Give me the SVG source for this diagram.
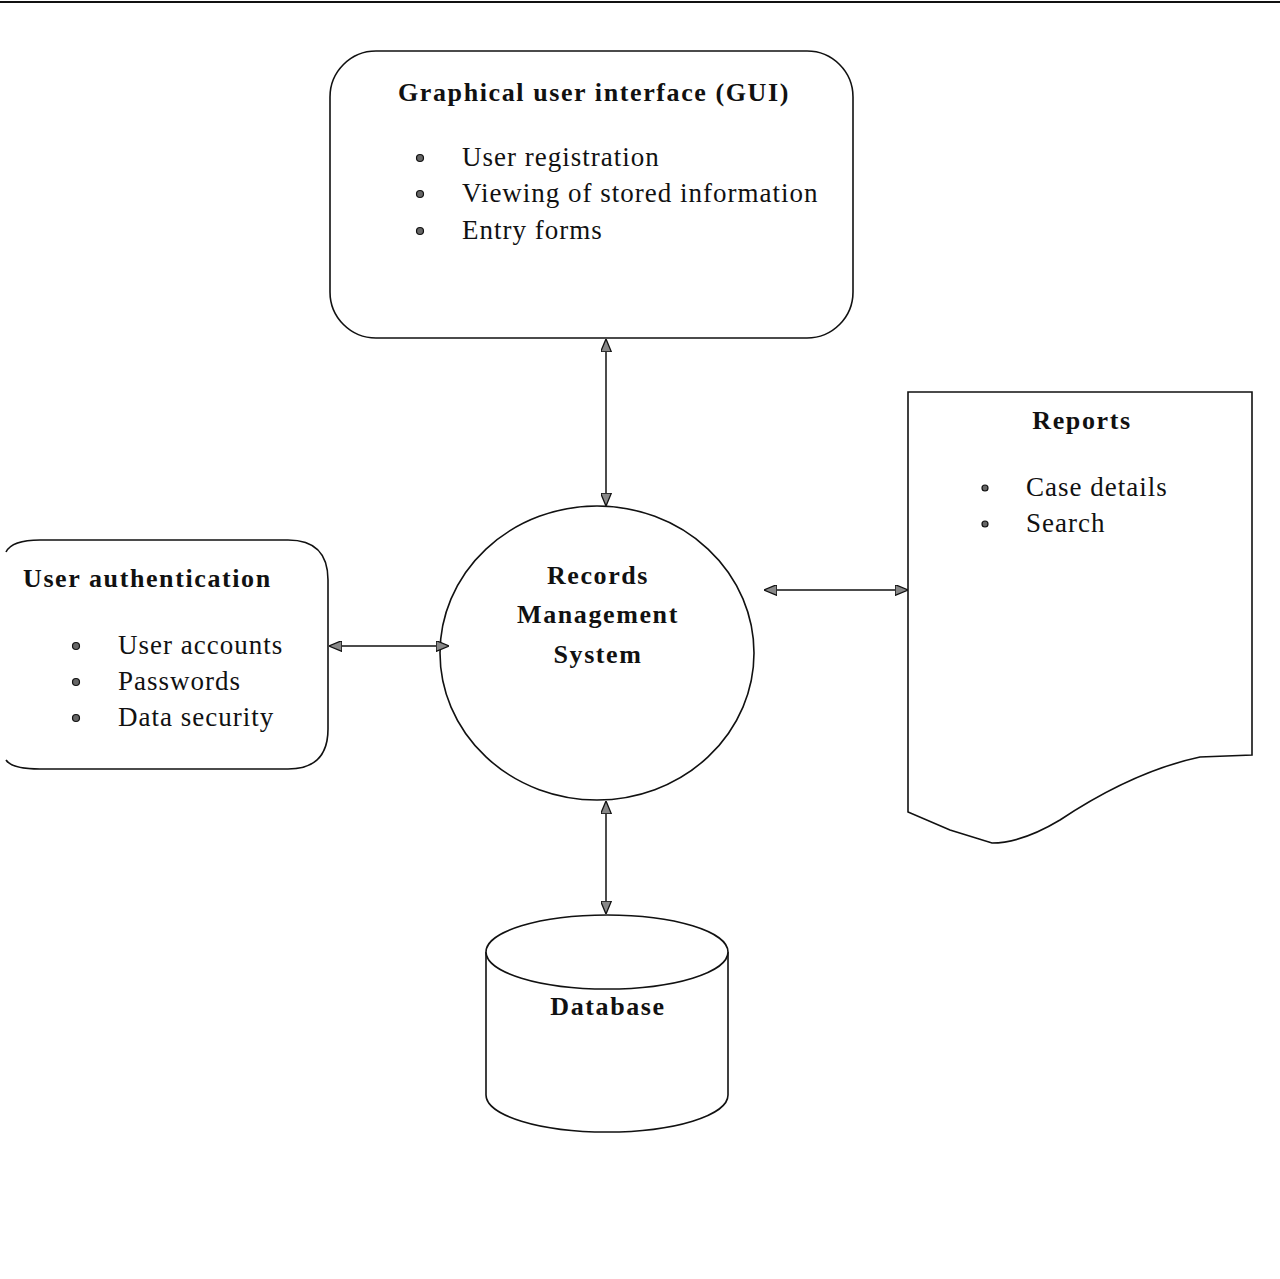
<svg xmlns="http://www.w3.org/2000/svg" width="1280" height="1279" viewBox="0 0 1280 1279">
<defs>
<style>
.shape{fill:#fff;stroke:#111;stroke-width:1.6}
.conn{stroke:#111;stroke-width:1.5;fill:none}
.t{font-family:"Liberation Serif","Times New Roman",serif;fill:#111}
.b{font-weight:bold;font-size:26px;letter-spacing:1.6px}
.r{font-size:27px;letter-spacing:1px}
.dot{fill:#666;stroke:#111;stroke-width:1.2}
</style>
<marker id="ah" viewBox="0 0 12 10" refX="11" refY="5" markerWidth="13" markerHeight="11" markerUnits="userSpaceOnUse" orient="auto-start-reverse">
<path d="M0,0 L12,5 L0,10 Z" fill="#888" stroke="#111" stroke-width="1.2"/>
</marker>
</defs>
<rect width="1280" height="1279" fill="#fff"/>
<line x1="0" y1="2" x2="1280" y2="2" stroke="#111" stroke-width="2"/>

<g id="gui">
<rect class="shape" x="330" y="51" width="523" height="287" rx="46" ry="46"/>
<text class="t b" x="594" y="101" text-anchor="middle">Graphical user interface (GUI)</text>
<circle class="dot" cx="420" cy="158" r="3.5"/>
<circle class="dot" cx="420" cy="194" r="3.5"/>
<circle class="dot" cx="420" cy="231" r="3.5"/>
<text class="t r" x="462" y="166">User registration</text>
<text class="t r" x="462" y="202">Viewing of stored information</text>
<text class="t r" x="462" y="239">Entry forms</text>
</g>

<g id="auth">
<path class="shape" d="M6,552 Q12,540 40,540 L288,540 Q328,540 328,580 L328,729 Q328,769 288,769 L40,769 Q12,769 6,760"/>
<text class="t b" x="23" y="587">User authentication</text>
<circle class="dot" cx="76" cy="646" r="3.5"/>
<circle class="dot" cx="76" cy="682" r="3.5"/>
<circle class="dot" cx="76" cy="718" r="3.5"/>
<text class="t r" x="118" y="654">User accounts</text>
<text class="t r" x="118" y="690">Passwords</text>
<text class="t r" x="118" y="726">Data security</text>
</g>

<g id="rms">
<ellipse class="shape" cx="597" cy="653" rx="157" ry="147"/>
<text class="t b" x="598" y="584" text-anchor="middle">Records</text>
<text class="t b" x="598" y="623" text-anchor="middle">Management</text>
<text class="t b" x="598" y="663" text-anchor="middle">System</text>
</g>

<g id="reports">
<path class="shape" d="M908,392 L1252,392 L1252,755 L1200,757 C1140,770 1090,800 1060,820 C1030,838 1010,843 992,843 L950,830 L908,812 Z"/>
<text class="t b" x="1082" y="429" text-anchor="middle">Reports</text>
<circle class="dot" cx="985" cy="488" r="3"/>
<circle class="dot" cx="985" cy="524" r="3"/>
<text class="t r" x="1026" y="496">Case details</text>
<text class="t r" x="1026" y="532">Search</text>
</g>

<g id="database">
<path class="shape" d="M486,952 L486,1095 A121,37 0 0 0 728,1095 L728,952"/>
<ellipse class="shape" cx="607" cy="952" rx="121" ry="37"/>
<text class="t b" x="608" y="1015" text-anchor="middle">Database</text>
</g>

<g id="connectors">
<line class="conn" x1="606" y1="340" x2="606" y2="505" marker-start="url(#ah)" marker-end="url(#ah)"/>
<line class="conn" x1="330" y1="646" x2="448" y2="646" marker-start="url(#ah)" marker-end="url(#ah)"/>
<line class="conn" x1="765" y1="590" x2="907" y2="590" marker-start="url(#ah)" marker-end="url(#ah)"/>
<line class="conn" x1="606" y1="802" x2="606" y2="913" marker-start="url(#ah)" marker-end="url(#ah)"/>
</g>
</svg>
